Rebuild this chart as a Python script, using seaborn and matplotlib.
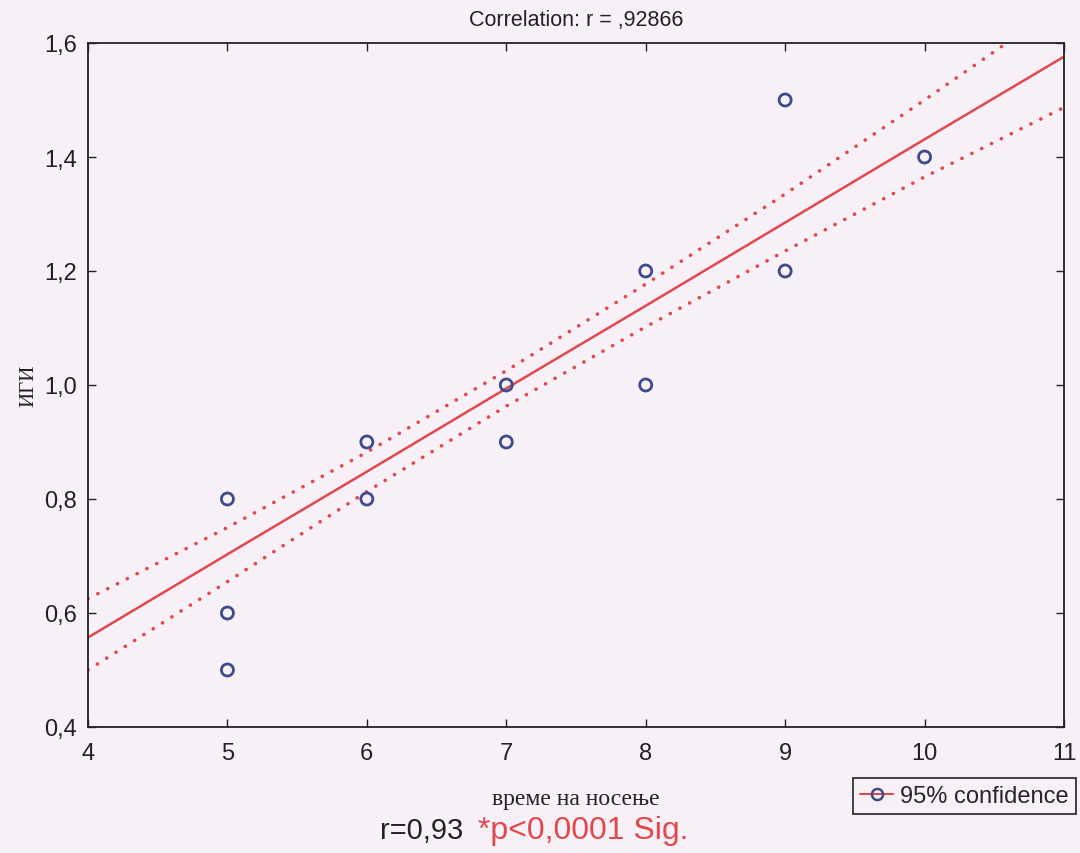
import matplotlib
matplotlib.use("Agg")
import matplotlib.pyplot as plt
import seaborn as sns
from matplotlib.lines import Line2D

# observed points
vreme = [5, 5, 5, 6, 6, 7, 7, 8, 8, 9, 9, 10]
igi = [0.8, 0.6, 0.5, 0.9, 0.8, 1.0, 0.9, 1.2, 1.0, 1.5, 1.2, 1.4]

# regression line and 95% band
fit_x = [4, 5, 6, 7, 8, 9, 10, 11]
fit_y = [0.557, 0.703, 0.848, 0.994, 1.139, 1.285, 1.431, 1.576]
upper_y = [0.625, 0.750, 0.882, 1.025, 1.177, 1.335, 1.500, 1.670]
lower_y = [0.500, 0.655, 0.813, 0.963, 1.102, 1.235, 1.365, 1.487]

xticks = [4, 5, 6, 7, 8, 9, 10, 11]
yticks = [0.4, 0.6, 0.8, 1.0, 1.2, 1.4, 1.6]
ytick_labels = ['0,4', '0,6', '0,8', '1,0', '1,2', '1,4', '1,6']

bg = '#f7f1f7'
red = '#e2474d'
blue = '#3c4b8c'
ink = '#222222'

sns.set_style('ticks')
plt.rcParams['font.family'] = ['Liberation Sans', 'DejaVu Sans']

fig = plt.figure(figsize=(10.8, 8.54), dpi=100, facecolor=bg)
ax = fig.add_axes([88 / 1080, 1 - 728 / 854, 976 / 1080, 684 / 854])
ax.set_facecolor(bg)

# dotted confidence band
for band in (upper_y, lower_y):
    sns.lineplot(x=fit_x, y=band, ax=ax, color=red, linewidth=2.6,
                 linestyle=(0, (0.05, 3.0)), dash_capstyle='round')
sns.lineplot(x=fit_x, y=fit_y, ax=ax, color=red, linewidth=1.8)
sns.scatterplot(x=vreme, y=igi, ax=ax, marker='o', s=75,
                facecolors='none', edgecolor=blue, linewidth=2.0, zorder=5)

ax.set_xlim(4, 11)
ax.set_ylim(0.4, 1.6)
ax.set_xticks(xticks)
ax.set_xticklabels([str(t) for t in xticks])
ax.set_yticks(yticks)
ax.set_yticklabels(ytick_labels)
ax.tick_params(direction='in', length=6, width=1, labelsize=17,
               top=True, right=True, colors=ink)
ax.tick_params(axis='x', pad=11)
ax.tick_params(axis='y', pad=8)
for s in ax.spines.values():
    s.set_color(ink)
    s.set_linewidth(1.3)

ax.set_title('Correlation: r = ,92866', fontsize=15.5, pad=13, color=ink)
ax.set_xlabel('време на носење', family='Liberation Serif', fontsize=17,
              labelpad=17, color=ink)
ax.set_ylabel('ИГИ', family='Liberation Serif', fontsize=15, labelpad=4,
              color=ink)

fig.text(422 / 1080, 1 - 831 / 854, 'r=0,93', fontsize=21, ha='center',
         va='center', color=ink)
fig.text(583 / 1080, 1 - 831 / 854, '*p<0,0001 Sig.', fontsize=23,
         ha='center', va='center', color=red)

handle = Line2D([0], [0], color=red, linewidth=1.5, marker='o',
                markerfacecolor='none', markeredgecolor=blue,
                markeredgewidth=1.8, markersize=8)
leg = fig.legend([handle], ['95% confidence'], loc='upper right',
                 bbox_to_anchor=(1076 / 1080, 1 - 779 / 854), fontsize=17,
                 frameon=True, fancybox=False, edgecolor=ink,
                 facecolor=bg, framealpha=1, handlelength=1.4,
                 handletextpad=0.3, borderpad=0.3, borderaxespad=0)
leg.get_frame().set_linewidth(1.2)

fig.savefig('out.png', dpi=100, facecolor=bg)
